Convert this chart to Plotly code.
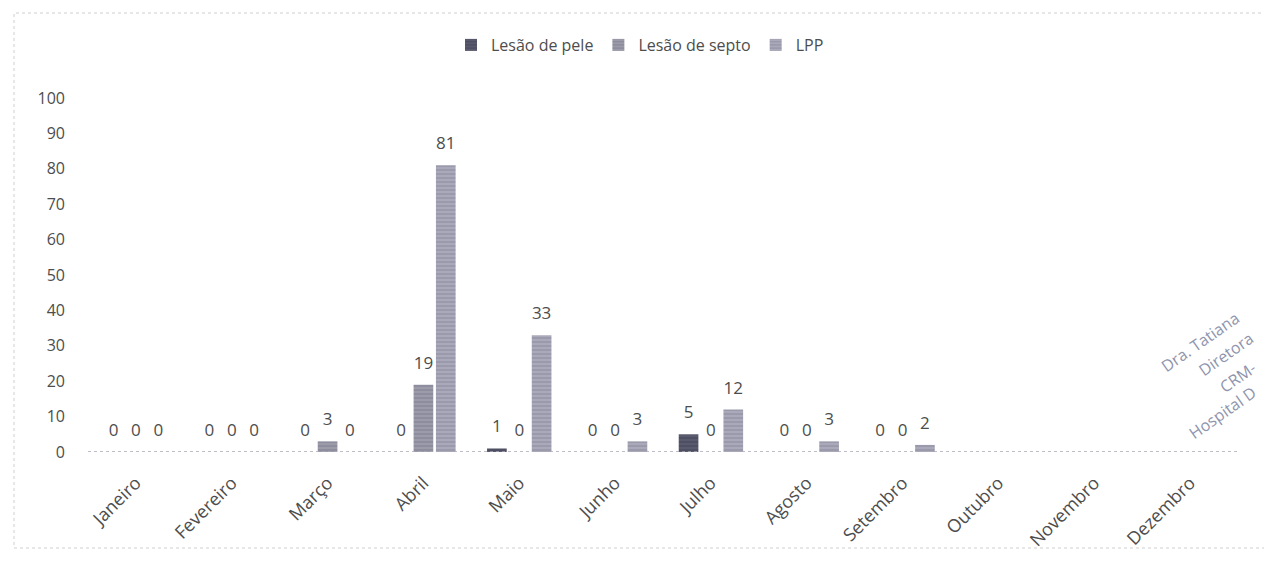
import plotly.graph_objects as go

months = ["Janeiro", "Fevereiro", "Março", "Abril", "Maio", "Junho", "Julho",
          "Agosto", "Setembro", "Outubro", "Novembro", "Dezembro"]
lesao_pele = [0, 0, 0, 0, 1, 0, 5, 0, 0, None, None, None]
lesao_septo = [0, 0, 3, 19, 0, 0, 0, 0, 0, None, None, None]
lpp = [0, 0, 0, 81, 33, 3, 12, 3, 2, None, None, None]
y_ticks = [0, 10, 20, 30, 40, 50, 60, 70, 80, 90, 100]

FONT = "Open Sans"
TXT = "#4d4d4d"

series = [
    ("Lesão de pele", lesao_pele, "#4f4f63", "#6e6e82"),
    ("Lesão de septo", lesao_septo, "#8d8d9d", "#b4b4c2"),
    ("LPP", lpp, "#9a9aac", "#c4c4d2"),
]

# page body has an 8px margin: work in window coordinates, convert to figure coordinates
OFF = 8
FW, FH = 1272 - OFF, 562 - OFF
L, T = 88 - OFF, 98 - OFF
W, H = 1238 - 88, 452 - 98

def px(x):
    return (x - OFF - L) / W

def py(y):
    return (T + H - (y - OFF)) / H

# invisible wide spaces on both sides lift the outside label a little off the bar
PAD = "<span style='font-size:44px'>&nbsp;</span>"

def label(v):
    return "" if v is None else PAD + str(v) + PAD

fig = go.Figure()
for name, vals, bg, fg in series:
    fig.add_trace(go.Bar(
        name=name, x=months, y=vals,
        marker=dict(color=bg, line=dict(width=0),
                    pattern=dict(shape="-", fgcolor=fg, bgcolor=bg, size=4, solidity=0.35)),
        text=[label(v) for v in vals],
        textposition="outside", cliponaxis=False, constraintext="none",
        textfont=dict(family=FONT, size=17, color=TXT),
    ))

shapes = [
    dict(type="rect", xref="paper", yref="paper", x0=px(14), x1=px(1267), y0=py(548), y1=py(13),
         line=dict(color="#cfcfcf", width=1, dash="dot"), fillcolor="rgba(0,0,0,0)", layer="below"),
    dict(type="line", xref="paper", yref="y", x0=0, x1=1, y0=0, y1=0,
         line=dict(color="#a9a9b8", width=1.5, dash="dot")),
]

stamp = [("Dra. Tatiana", 1200, 342), ("Diretora", 1226, 354), ("CRM-", 1238, 377), ("Hospital D", 1222, 413)]
annotations = []
for t, x, y in stamp:
    annotations.append(dict(text=t, xref="paper", yref="paper", x=px(x), y=py(y), showarrow=False,
                            xanchor="center", yanchor="middle",
                            textangle=-35, font=dict(family=FONT, size=16, color="#8e94ad")))

fig.update_layout(
    width=FW, height=FH,
    margin=dict(l=L, r=FW - L - W, t=T, b=FH - T - H),
    paper_bgcolor="white", plot_bgcolor="white",
    barmode="group", bargap=0.3, bargroupgap=0.12,
    font=dict(family=FONT, size=16, color=TXT),
    showlegend=True,
    legend=dict(orientation="h", x=px(640), xanchor="center", y=py(45), yanchor="middle",
                font=dict(family=FONT, size=16, color=TXT), itemwidth=30,
                itemsizing="constant", traceorder="normal"),
    shapes=shapes, annotations=annotations,
)
fig.update_xaxes(showgrid=False, showline=False, tickangle=-45, ticks="",
                 tickfont=dict(family=FONT, size=18, color=TXT), zeroline=False,
                 ticklabelstandoff=16)
fig.update_yaxes(range=[0, 100], tickvals=y_ticks, showgrid=False, showline=False, zeroline=False,
                 tickfont=dict(family=FONT, size=16, color=TXT), ticks="", ticklabelstandoff=22)

fig.write_html("out.html")
